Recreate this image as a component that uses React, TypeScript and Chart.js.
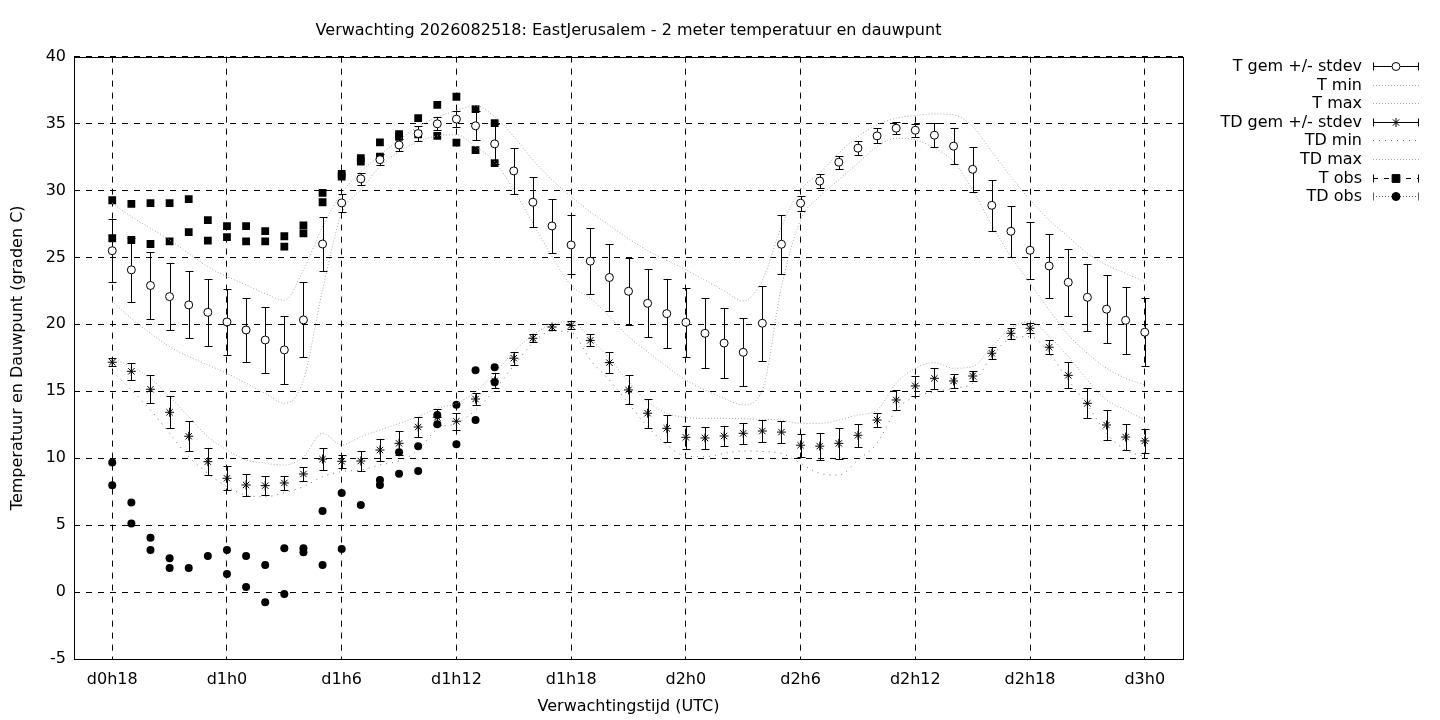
import { useEffect, useRef } from "react"
import { Chart, registerables } from "chart.js"
import { drawPoint } from "chart.js/helpers"

Chart.register(...registerables)

const FONT = "'DejaVu Sans', sans-serif"
const SIZE = 16

// forecast hours since d0h0
const hours = [
  18, 19, 20, 21, 22, 23, 24, 25, 26, 27, 28, 29, 30, 31, 32, 33, 34, 35, 36, 37, 38, 39, 40, 41, 42, 43, 44,
  45, 46, 47, 48, 49, 50, 51, 52, 53, 54, 55, 56, 57, 58, 59, 60, 61, 62, 63, 64, 65, 66, 67, 68, 69, 70, 71, 72,
]

const xTicks = [18, 24, 30, 36, 42, 48, 54, 60, 66, 72]
const xTickLabels = ["d0h18", "d1h0", "d1h6", "d1h12", "d1h18", "d2h0", "d2h6", "d2h12", "d2h18", "d3h0"]

const tGem = [
  25.5, 24.07, 22.9, 22.07, 21.45, 20.9, 20.18, 19.58, 18.83, 18.09, 20.33, 26.0, 29.07, 30.87, 32.3, 33.4, 34.25,
  34.98, 35.33, 34.83, 33.48, 31.46, 29.12, 27.35, 25.93, 24.72, 23.5, 22.47, 21.57, 20.8, 20.15, 19.33, 18.6, 17.91,
  20.08, 25.98, 29.05, 30.7, 32.11, 33.16, 34.08, 34.65, 34.5, 34.13, 33.31, 31.58, 28.89, 26.95, 25.53, 24.36, 23.14,
  22.02, 21.13, 20.3, 19.41,
]
const tSd = [
  2.35, 2.4, 2.5, 2.5, 2.5, 2.5, 2.45, 2.4, 2.5, 2.55, 2.8, 2.05, 0.65, 0.45, 0.4, 0.45, 0.55, 0.5, 0.6, 1.07, 1.5,
  1.7, 1.85, 2.0, 2.2, 2.45, 2.5, 2.5, 2.55, 2.6, 2.6, 2.6, 2.6, 2.55, 2.8, 2.2, 0.55, 0.5, 0.47, 0.5, 0.55, 0.45, 0.5,
  0.9, 1.35, 1.7, 1.9, 1.9, 2.15, 2.4, 2.5, 2.5, 2.55, 2.5, 2.55,
]
const tMin = [
  21.7, 20.45, 19.33, 18.33, 17.59, 16.97, 16.34, 15.6, 14.85, 14.1, 15.84, 22.57, 28.3, 30.04, 31.79, 32.9, 33.66,
  34.08, 34.16, 33.28, 32.16, 30.04, 27.55, 25.06, 22.9, 21.95, 20.58, 19.08, 17.96, 16.84, 15.84, 15.1, 14.47, 13.98,
  15.1, 22.8, 27.8, 29.55, 30.79, 32.04, 33.28, 33.9, 33.78, 33.16, 32.16, 30.04, 27.43, 25.06, 23.07, 21.08, 19.21,
  17.84, 16.72, 15.97, 15.47,
]
const tMax = [
  29.05, 28.05, 27.18, 26.3, 25.3, 24.3, 23.57, 22.94, 22.3, 21.8, 24.07, 27.3, 29.8, 31.4, 32.66, 33.78, 34.78,
  35.48, 35.97, 36.32, 35.53, 34.03, 32.29, 30.79, 29.55, 28.4, 27.4, 26.4, 25.5, 24.8, 24.07, 23.3, 22.5, 21.75,
  23.3, 27.3, 30.04, 31.3, 32.8, 34.03, 34.9, 35.4, 35.6, 35.72, 35.65, 34.78, 32.9, 31.04, 29.3, 27.8, 26.55, 25.3,
  24.44, 23.8, 23.19,
]

const tdGem = [
  17.17, 16.49, 15.15, 13.43, 11.64, 9.74, 8.5, 8.0, 7.95, 8.15, 8.82, 9.93, 9.77, 9.79, 10.61, 11.11, 12.33, 13.05,
  12.76, 14.42, 15.77, 17.47, 18.96, 19.8, 19.92, 18.8, 17.14, 15.1, 13.36, 12.23, 11.56, 11.51, 11.66, 11.86, 12.03,
  11.95, 10.97, 10.9, 11.11, 11.71, 12.85, 14.35, 15.4, 15.97, 15.77, 16.14, 17.84, 19.33, 19.71, 18.29, 16.19, 14.1,
  12.48, 11.58, 11.29,
]
const tdSd = [
  0.3, 0.65, 1.05, 1.2, 1.12, 1.0, 0.9, 0.8, 0.7, 0.55, 0.55, 0.82, 0.47, 0.78, 0.85, 0.9, 0.78, 0.6, 0.64, 0.47,
  0.56, 0.5, 0.3, 0.2, 0.3, 0.45, 0.8, 1.08, 1.08, 1.0, 0.87, 0.82, 0.72, 0.78, 0.8, 0.85, 0.85, 1.0, 1.15, 0.87, 0.5,
  0.72, 0.75, 0.78, 0.5, 0.38, 0.45, 0.4, 0.37, 0.53, 0.96, 1.12, 1.1, 1.0, 0.92,
]
const tdMin = [
  16.5, 15.1, 13.6, 11.86, 10.11, 8.87, 7.87, 7.25, 7.12, 7.42, 7.87, 8.62, 9.0, 9.12, 9.5, 9.8, 10.6, 12.2, 12.6,
  13.6, 15.1, 16.9, 18.6, 19.5, 19.4, 17.34, 15.84, 14.1, 12.36, 10.99, 10.16, 10.11, 10.36, 10.54, 10.5, 10.36, 9.62,
  8.87, 8.74, 9.87, 11.11, 13.6, 14.6, 14.97, 15.22, 15.6, 17.59, 18.96, 19.08, 17.84, 15.84, 13.98, 11.86, 10.61,
  10.11,
]
const tdMax = [
  17.46, 16.84, 15.97, 14.6, 13.1, 11.6, 10.61, 9.87, 9.62, 9.49, 10.11, 11.86, 10.99, 11.6, 12.1, 12.6, 13.1, 13.73,
  14.1, 14.97, 16.34, 17.96, 19.2, 20.0, 20.2, 18.96, 17.46, 15.72, 14.22, 13.36, 13.05, 12.98, 12.98, 12.95, 12.9,
  12.85, 12.6, 12.6, 12.85, 13.23, 13.6, 15.6, 16.72, 17.14, 16.72, 16.84, 18.33, 19.71, 20.2, 19.08, 17.59, 15.84,
  14.35, 13.6, 12.85,
]

// observations (two stations, so some hours appear twice)
const tObsHours = [
  18, 18, 19, 19, 20, 20, 21, 21, 22, 22, 23, 23, 24, 24, 25, 25, 26, 26, 27, 27, 28, 28, 29, 29, 30, 30, 31, 31, 32,
  32, 33, 33, 34, 34, 35, 35, 36, 36, 37, 37, 38, 38,
]
const tObs = [
  29.27, 26.43, 29.0, 26.3, 29.05, 26.0, 29.05, 26.2, 29.35, 26.88, 27.78, 26.26, 27.33, 26.51, 27.33, 26.2, 26.96,
  26.2, 26.58, 25.81, 27.4, 26.8, 29.82, 29.12, 31.24, 31.04, 32.41, 32.16, 33.6, 32.53, 34.2, 34.0, 35.4, 34.2, 36.4,
  34.08, 37.0, 33.58, 36.08, 33.01, 35.03, 32.04,
]
const tdObsHours = [
  18, 18, 19, 19, 20, 20, 21, 21, 22, 23, 24, 24, 25, 25, 26, 26, 27, 27, 28, 28, 29, 29, 30, 30, 31, 32, 32, 33, 33,
  34, 34, 35, 35, 36, 36, 37, 37, 38, 38,
]
const tdObs = [
  9.67, 7.97, 6.7, 5.13, 4.06, 3.14, 2.52, 1.79, 1.79, 2.69, 3.14, 1.35, 2.69, 0.37, 2.02, -0.77, 3.27, -0.15, 3.27,
  2.97, 6.05, 2.02, 7.4, 3.21, 6.5, 8.37, 8.0, 10.44, 8.84, 10.89, 9.04, 13.23, 12.53, 14.0, 11.04, 16.57, 12.85, 16.79,
  15.67,
]

const pts = (xs: number[], ys: number[]) => ys.map((y, i) => ({ x: xs[i], y }))

// error bars drawn under the markers of datasets that carry an sd array
const errorBars = {
  id: "errorBars",
  beforeDatasetDraw(chart: any, args: any) {
    const ds = chart.data.datasets[args.index]
    if (!ds.sd) return
    const { ctx, chartArea, scales } = chart
    ctx.save()
    ctx.beginPath()
    ctx.rect(chartArea.left, chartArea.top, chartArea.width, chartArea.height)
    ctx.clip()
    ctx.strokeStyle = "#000"
    ctx.lineWidth = 1
    ctx.beginPath()
    ds.data.forEach((p: { x: number; y: number }, i: number) => {
      const px = Math.round(scales.x.getPixelForValue(p.x)) + 0.5
      const top = Math.round(scales.y.getPixelForValue(p.y + ds.sd[i])) + 0.5
      const bot = Math.round(scales.y.getPixelForValue(p.y - ds.sd[i])) + 0.5
      ctx.moveTo(px, top)
      ctx.lineTo(px, bot)
      ctx.moveTo(px - 4, top)
      ctx.lineTo(px + 4, top)
      ctx.moveTo(px - 4, bot)
      ctx.lineTo(px + 4, bot)
    })
    ctx.stroke()
    ctx.restore()
  },
}

// solid frame round the plot, like gnuplot's border
const frame = {
  id: "frame",
  beforeDatasetsDraw(chart: any) {
    const { ctx, chartArea: a } = chart
    ctx.save()
    ctx.strokeStyle = "#000"
    ctx.lineWidth = 1
    ctx.strokeRect(Math.round(a.left) + 0.5, Math.round(a.top) + 0.5, Math.round(a.width), Math.round(a.height))
    ctx.restore()
  },
}

// key on the right: right-aligned text and a sample of each style
const sideLegend = {
  id: "sideLegend",
  afterDraw(chart: any) {
    const { ctx } = chart
    const x0 = 1373
    const x1 = 1419
    const xm = (x0 + x1) / 2
    ctx.save()
    ctx.font = `${SIZE}px ${FONT}`
    ctx.textAlign = "right"
    ctx.textBaseline = "middle"
    chart.data.datasets.forEach((ds: any, i: number) => {
      const y = Math.round(66 + i * 18.6) + 0.5
      ctx.fillStyle = "#000"
      ctx.fillText(ds.label, 1362, y)
      ctx.lineWidth = 1
      if (ds.keyStyle === "line") {
        ctx.strokeStyle = ds.borderColor
        ctx.setLineDash(ds.borderDash || [])
        ctx.beginPath()
        ctx.moveTo(x0, y)
        ctx.lineTo(x1, y)
        ctx.stroke()
        ctx.setLineDash([])
        return
      }
      ctx.strokeStyle = ds.keyColor || "#000"
      ctx.setLineDash(ds.keyDash || [])
      ctx.beginPath()
      ctx.moveTo(x0, y)
      ctx.lineTo(x1, y)
      ctx.stroke()
      ctx.setLineDash([])
      ctx.beginPath()
      ctx.moveTo(x0 + 0.5, y - 4)
      ctx.lineTo(x0 + 0.5, y + 4)
      ctx.moveTo(x1 - 0.5, y - 4)
      ctx.lineTo(x1 - 0.5, y + 4)
      ctx.stroke()
      ctx.fillStyle = ds.pointBackgroundColor
      ctx.strokeStyle = ds.pointBorderColor
      drawPoint(ctx, { pointStyle: ds.pointStyle, radius: ds.pointRadius, rotation: 0, borderWidth: 1 }, xm, y)
    })
    ctx.restore()
  },
}

export default function App() {
  const chartRef = useRef<HTMLCanvasElement | null>(null)
  const chartInstance = useRef<Chart | null>(null)

  useEffect(() => {
    if (!chartRef.current) return
    if (chartInstance.current) chartInstance.current.destroy()

    const rangeLine = (label: string, data: number[], color: string, dash: number[]) => ({
      label,
      data: pts(hours, data),
      showLine: true,
      borderColor: color,
      borderWidth: 1,
      borderDash: dash,
      pointRadius: 0,
      cubicInterpolationMode: "monotone",
      keyStyle: "line",
    })

    chartInstance.current = new Chart(chartRef.current, {
      type: "scatter",
      data: {
        datasets: [
          {
            label: "T gem +/- stdev",
            data: pts(hours, tGem),
            sd: tSd,
            pointStyle: "circle",
            pointRadius: 4,
            pointBackgroundColor: "#fff",
            pointBorderColor: "#000",
            pointBorderWidth: 1,
          },
          rangeLine("T min", tMin, "#a8a8a8", [1, 2]),
          rangeLine("T max", tMax, "#a8a8a8", [1, 2]),
          {
            label: "TD gem +/- stdev",
            data: pts(hours, tdGem),
            sd: tdSd,
            pointStyle: "star",
            pointRadius: 4.5,
            pointBackgroundColor: "#000",
            pointBorderColor: "#000",
            pointBorderWidth: 1,
          },
          rangeLine("TD min", tdMin, "#707070", [1, 5]),
          rangeLine("TD max", tdMax, "#a8a8a8", [1, 2]),
          {
            label: "T obs",
            data: pts(tObsHours, tObs),
            pointStyle: "rect",
            pointRadius: 5.5,
            pointBackgroundColor: "#000",
            pointBorderColor: "#000",
            pointBorderWidth: 0,
            keyDash: [5, 6],
          },
          {
            label: "TD obs",
            data: pts(tdObsHours, tdObs),
            pointStyle: "circle",
            pointRadius: 4,
            pointBackgroundColor: "#000",
            pointBorderColor: "#000",
            pointBorderWidth: 0,
            keyDash: [1, 2],
            keyColor: "#606060",
          },
        ] as any,
      },
      options: {
        responsive: true,
        maintainAspectRatio: false,
        animation: false,
        layout: { padding: { left: 0, right: 257, top: 0, bottom: 0 } },
        plugins: {
          legend: { display: false },
          tooltip: { enabled: false },
          title: {
            display: true,
            fullSize: false,
            text: "Verwachting 2026082518: EastJerusalem - 2 meter temperatuur en dauwpunt",
            color: "#000",
            font: { family: FONT, size: SIZE, weight: "normal" },
            padding: { top: 21.2, bottom: 16.2 },
          },
        },
        scales: {
          x: {
            type: "linear",
            min: 16,
            max: 74,
            afterBuildTicks: (scale) => {
              scale.ticks = xTicks.map((value) => ({ value }))
            },
            afterFit: (scale) => {
              scale.height = 61
            },
            ticks: {
              autoSkip: false,
              maxRotation: 0,
              color: "#000",
              padding: 11,
              font: { family: FONT, size: SIZE },
              callback: (value) => xTickLabels[xTicks.indexOf(Number(value))] ?? "",
            },
            grid: { color: "#000", lineWidth: 1, drawTicks: false },
            border: { display: false, dash: [6, 6] },
            title: {
              display: true,
              text: "Verwachtingstijd (UTC)",
              color: "#000",
              font: { family: FONT, size: SIZE },
              padding: { top: 0, bottom: 3.6 },
            },
          },
          y: {
            min: -5,
            max: 40,
            afterFit: (scale) => {
              scale.width = 74
            },
            ticks: {
              stepSize: 5,
              color: "#000",
              padding: 8,
              font: { family: FONT, size: SIZE },
            },
            grid: { color: "#000", lineWidth: 1, drawTicks: false },
            border: { display: false, dash: [6, 6] },
            title: {
              display: true,
              text: "Temperatuur en Dauwpunt (graden C)",
              color: "#000",
              font: { family: FONT, size: SIZE },
              padding: { top: 8.4, bottom: 0 },
            },
          },
        },
      },
      plugins: [frame, errorBars, sideLegend],
    })

    return () => {
      if (chartInstance.current) {
        chartInstance.current.destroy()
        chartInstance.current = null
      }
    }
  }, [])

  return (
    <div style={{ position: "fixed", left: 0, top: 0, width: 1440, height: 720, background: "#fff" }}>
      <canvas ref={chartRef} />
    </div>
  )
}
